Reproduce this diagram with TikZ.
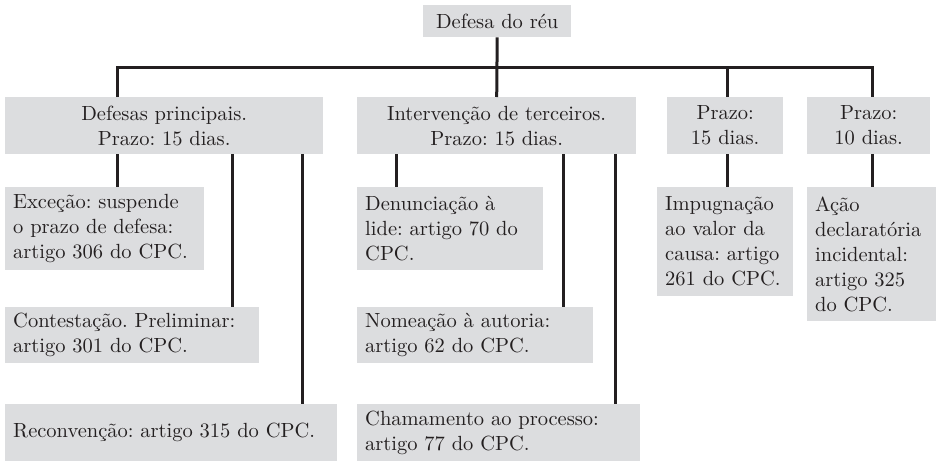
\documentclass[tikz,border=0pt]{standalone}
\usepackage{fontspec}
\setmainfont{lmroman10-regular}[Extension=.otf]
\usepackage{xcolor}
\usepackage{tikz}
\usetikzlibrary{positioning}
\frenchspacing
\definecolor{boxgray}{HTML}{DCDDDF}
\definecolor{ink}{HTML}{231F20}
\tikzset{
  BoxHead/.style={
    fill=boxgray, text=ink,
    align=center, inner sep=4pt,
    anchor=north west,
    font=\fontsize{20.5}{25}\selectfont
  },
  BoxLeaf/.style={BoxHead, align=left, inner xsep=8pt},
  Link/.style={draw=ink, line width=3pt}
}

\begin{document}
\begin{tikzpicture}[x=1pt, y=-1pt]
  \useasboundingbox (0,0) rectangle (937,461);

  % root and the four branches
  \node[BoxHead, minimum width=148pt, minimum height=32pt] (reu) at (423,5) {Defesa do réu};
  \node[BoxHead, minimum width=318pt, minimum height=57pt] (principais) at (5,97) {Defesas principais.\\Prazo: 15 dias.};
  \node[BoxHead, minimum width=279pt, minimum height=57pt] (terceiros) at (357,97) {Intervenção de terceiros.\\Prazo: 15 dias.};
  \node[BoxHead, minimum width=116pt, minimum height=57pt] (prazoA) at (667,97) {Prazo:\\15 dias.};
  \node[BoxHead, minimum width=123pt, minimum height=57pt] (prazoB) at (807,97) {Prazo:\\10 dias.};

  % leaves under the defesas principais
  \node[BoxLeaf, text width=183pt, minimum height=83pt] (excecao) at (5,187) {Exceção: suspende\\o prazo de defesa:\\artigo 306 do CPC.};
  \node[BoxLeaf, text width=238pt, minimum height=56pt] (contest) at (5,307) {Contestação. Preliminar:\\artigo 301 do CPC.};
  \node[BoxLeaf, text width=316pt, minimum height=57pt] (reconv) at (5,404) {Reconvenção: artigo 315 do CPC.};

  % leaves under the intervencao de terceiros
  \node[BoxLeaf, text width=170pt, minimum height=83pt] (denunc) at (357,187) {Denunciação à\\lide: artigo 70 do\\CPC.};
  \node[BoxLeaf, text width=220pt, minimum height=56pt] (nomeacao) at (357,307) {Nomeação à autoria:\\artigo 62 do CPC.};
  \node[BoxLeaf, text width=267pt, minimum height=57pt] (chamam) at (357,404) {Chamamento ao processo:\\artigo 77 do CPC.};

  % leaves under the two deadlines
  \node[BoxLeaf, text width=120pt, minimum height=109pt] (impugn) at (657,187) {Impugnação\\ao valor da\\causa: artigo\\261 do CPC.};
  \node[BoxLeaf, text width=113pt, minimum height=134pt] (acao) at (807,187) {Ação\\declaratória\\incidental:\\artigo 325\\do CPC.};

  % the bar below the root
  \coordinate (bar) at (0,67);
  \coordinate (d15) at ([xshift=60pt]prazoA.north west);
  \coordinate (d10) at ([xshift=65pt]prazoB.north west);
  \draw[Link] (reu.south) -- (terceiros.north);
  \draw[Link] ([xshift=112pt]principais.north west) |- (d10 |- bar) -- (d10);
  \draw[Link] (d15 |- bar) -- (d15);

  % links down to the leaves
  \foreach \leaf/\dx in {excecao/112, contest/227, reconv/297}
    \draw[Link] ([xshift=\dx pt]principais.south west) -- ([xshift=\dx pt]\leaf.north west);
  \foreach \leaf/\dx in {denunc/39, nomeacao/206, chamam/258}
    \draw[Link] ([xshift=\dx pt]terceiros.south west) -- ([xshift=\dx pt]\leaf.north west);
  \draw[Link] (d15 |- prazoA.south) -- (d15 |- impugn.north);
  \draw[Link] (d10 |- prazoB.south) -- (d10 |- acao.north);
\end{tikzpicture}
\end{document}
